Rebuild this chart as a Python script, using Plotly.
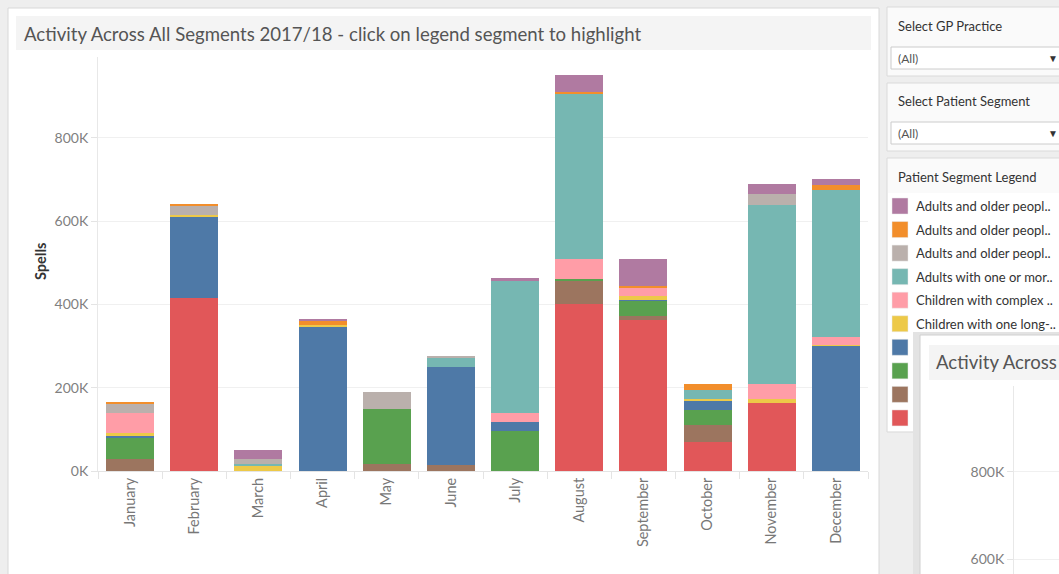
import plotly.graph_objects as go

# ---- data -------------------------------------------------------------
months = ["January", "February", "March", "April", "May", "June", "July",
          "August", "September", "October", "November", "December"]

# segments listed bottom of stack -> top of stack
seg_red = [0, 416000, 0, 0, 0, 0, 0, 402000, 362000, 70000, 164000, 0]
seg_brown = [28000, 0, 0, 0, 17000, 14000, 0, 56000, 11000, 40000, 0, 0]
seg_green = [53000, 0, 0, 0, 131000, 0, 95000, 2000, 35000, 37000, 0, 0]
seg_blue = [4000, 195000, 0, 347000, 0, 235000, 23000, 0, 3000, 22000, 0, 300000]
seg_yellow = [7000, 3000, 14000, 4000, 0, 0, 0, 0, 10000, 4000, 9000, 3000]
seg_pink = [48000, 0, 0, 0, 0, 0, 22000, 50000, 20000, 0, 36000, 18000]
seg_teal = [0, 0, 3000, 0, 0, 23000, 317000, 397000, 0, 22000, 430000, 354000]
seg_beige = [23000, 23000, 13000, 0, 41000, 5000, 0, 0, 0, 0, 25000, 0]
seg_orange = [2000, 2000, 0, 10000, 0, 0, 0, 3000, 3000, 14000, 0, 11000]
seg_purple = [0, 0, 21000, 4000, 0, 0, 6000, 41000, 64000, 0, 26000, 14000]

# legend labels, top row first (as shown in the side panel)
legend_labels = [
    "Adults and older peopl..",
    "Adults and older peopl..",
    "Adults and older peopl..",
    "Adults with one or mor..",
    "Children with complex ..",
    "Children with one long-..",
    "Segment 7",
    "Segment 8",
    "Segment 9",
    "Segment 10",
]
legend_colors = ["#b07aa1", "#f28e2b", "#bab0ac", "#76b7b2", "#ff9da7",
                 "#edc948", "#4e79a7", "#59a14f", "#9c755f", "#e15759"]
legend_values = [seg_purple, seg_orange, seg_beige, seg_teal, seg_pink,
                 seg_yellow, seg_blue, seg_green, seg_brown, seg_red]

y_tick_vals = [0, 200000, 400000, 600000, 800000]
y_tick_text = ["0K", "200K", "400K", "600K", "800K"]

FONT = "Lato"
W, H = 1059, 574


def px(x):
    return x / W


def py(y):
    return 1 - y / H


fig = go.Figure()

# stacked bars: draw bottom segment first
for name, color, vals in reversed(list(zip(legend_labels, legend_colors, legend_values))):
    fig.add_trace(go.Bar(x=months, y=vals, name=name, marker_color=color,
                         marker_line_width=0, xaxis="x", yaxis="y"))

# second (partially hidden) worksheet axes
fig.add_trace(go.Scatter(x=[], y=[], xaxis="x2", yaxis="y2", showlegend=False))

shapes = []


def rect(x0, y0, x1, y1, fill, line=None, lw=1):
    shapes.append(dict(type="rect", xref="paper", yref="paper",
                       x0=px(x0), x1=px(x1), y0=py(y1), y1=py(y0),
                       fillcolor=fill, layer="below",
                       line=dict(color=line or fill, width=lw if line else 0)))


# main worksheet panel
rect(8, 8, 879, 580, "white", "#d8d8d8")
rect(16, 16, 871, 50, "#f4f4f4")

# filter panels
rect(887, 7, 1065, 76, "#fafafa", "#dadada")
rect(891, 47, 1065, 69, "white", "#cccccc")
rect(887, 83, 1065, 151, "#fafafa", "#dadada")
rect(891, 122, 1065, 144, "white", "#cccccc")

# legend panel
rect(887, 158, 1065, 432, "#fafafa", "#dadada")
rect(888, 193, 1065, 431, "white")
row_y = [206 + 23.55 * i for i in range(len(legend_labels))]
for cy, col in zip(row_y, legend_colors):
    rect(892, cy - 8, 908, cy + 8, col, "#e8e8e8", 0.5)

# overlapping floating worksheet
rect(913, 332, 1065, 580, "#e3e3e3")
rect(920, 335, 1065, 580, "white", "#d0d0d0")
rect(929, 345, 1065, 380, "#f4f4f4")

annotations = [
    dict(x=px(22), y=py(34), text="Activity Across All Segments 2017/18 - click on legend segment to highlight",
         font=dict(size=18.6, color="#555555", family=FONT)),
    dict(x=px(40), y=py(262), text="<b>Spells</b>", textangle=-90, xanchor="center",
         font=dict(size=14.5, color="#333333", family=FONT)),
    dict(x=px(896), y=py(26), text="Select GP Practice", font=dict(size=13, color="#333333", family=FONT)),
    dict(x=px(896), y=py(58), text="(All)", font=dict(size=12, color="#555555", family=FONT)),
    dict(x=px(1053), y=py(58), text="▼", xanchor="center", font=dict(size=10, color="#333333", family=FONT)),
    dict(x=px(896), y=py(101), text="Select Patient Segment", font=dict(size=13, color="#333333", family=FONT)),
    dict(x=px(896), y=py(133), text="(All)", font=dict(size=12, color="#555555", family=FONT)),
    dict(x=px(1053), y=py(133), text="▼", xanchor="center", font=dict(size=10, color="#333333", family=FONT)),
    dict(x=px(896), y=py(177), text="Patient Segment Legend", font=dict(size=13, color="#333333", family=FONT)),
    dict(x=px(934), y=py(362), text="Activity Across",
         font=dict(size=18.6, color="#555555", family=FONT)),
]
for cy, lab in zip(row_y[:6], legend_labels[:6]):
    annotations.append(dict(x=px(914), y=py(cy), text=lab,
                            font=dict(size=13, color="#333333", family=FONT)))
for a in annotations:
    a.setdefault("xref", "paper")
    a.setdefault("yref", "paper")
    a.setdefault("xanchor", "left")
    a.setdefault("yanchor", "middle")
    a["showarrow"] = False

fig.update_layout(
    width=W, height=H,
    margin=dict(l=0, r=0, t=0, b=0),
    paper_bgcolor="#eeeeee",
    plot_bgcolor="white",
    barmode="stack",
    bargap=0.25,
    showlegend=False,
    font=dict(family=FONT),
    xaxis=dict(domain=[px(98), px(868)], anchor="y", type="category",
               categoryorder="array", categoryarray=months,
               tickangle=-90, tickfont=dict(size=14.5, color="#777777"),
               ticks="outside", tickson="boundaries", ticklen=7, tickcolor="#e4e4e4",
               showline=True, linecolor="#e4e4e4", showgrid=False, automargin=False),
    yaxis=dict(domain=[py(471), py(57)], anchor="x", range=[0, 993600],
               tickvals=y_tick_vals, ticktext=y_tick_text,
               tickfont=dict(size=14, color="#808080"),
               ticks="outside", ticklen=6, tickcolor="#e4e4e4",
               showgrid=True, gridcolor="#f0f0f0", zeroline=False,
               showline=True, linecolor="#e8e8e8", automargin=False),
    xaxis2=dict(domain=[px(1014), 1], anchor="y2", range=[0, 1],
                showticklabels=False, showgrid=False, showline=False,
                zeroline=False, ticks=""),
    yaxis2=dict(domain=[0, py(386)], anchor="x2", range=[565700, 996000],
                tickvals=[600000, 800000], ticktext=["600K", "800K"],
                tickfont=dict(size=14, color="#808080"),
                ticks="outside", ticklen=6, tickcolor="#e4e4e4",
                showgrid=True, gridcolor="#f0f0f0", zeroline=False,
                showline=True, linecolor="#e8e8e8", automargin=False),
    shapes=shapes,
    annotations=annotations,
)

fig.write_html("out.html")
